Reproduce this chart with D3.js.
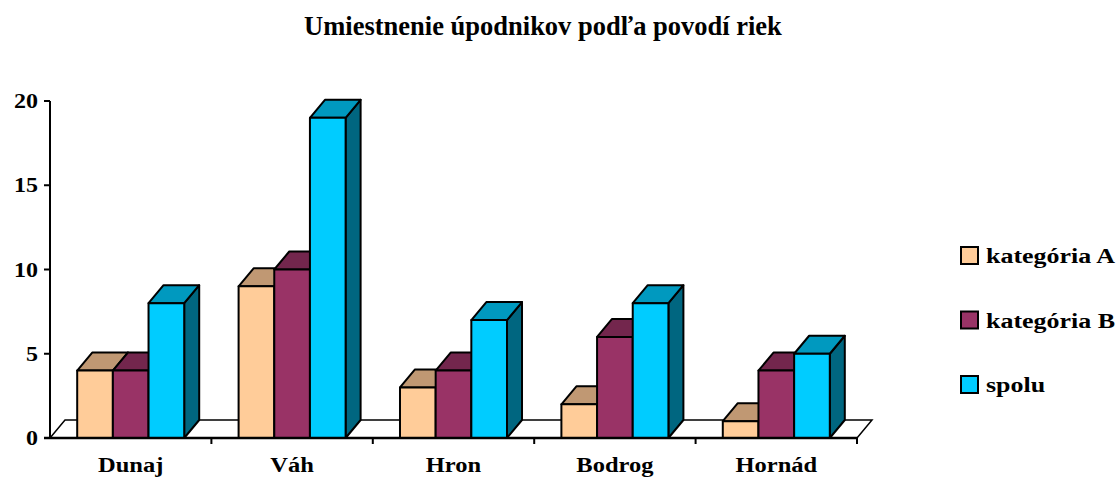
<!DOCTYPE html>
<html><head><meta charset="utf-8">
<script src="https://cdn.jsdelivr.net/npm/d3@7"></script>
<style>body{margin:0;background:#fff}svg{display:block}</style>
</head><body><svg id="c" width="1120" height="477"></svg>
<script>
const title = "Umiestnenie úpodnikov podľa povodí riek";
const categories = ["Dunaj","Váh","Hron","Bodrog","Hornád"];
const seriesNames = ["kategória A","kategória B","spolu"];
const katA = [4,9,3,2,1];
const katB = [4,10,4,6,4];
const spolu = [8,19,7,8,5];
const yTicks = [0,5,10,15,20];

const seriesValues = [katA,katB,spolu];
const colors = [
  {front:"#FFCC99", top:"#C09873", side:"#9C7A5A"},
  {front:"#993366", top:"#73264D", side:"#5C1F3D"},
  {front:"#00CCFF", top:"#0099BF", side:"#006680"}
];
const FONT = "font-family:'Liberation Serif','Times New Roman',serif;font-weight:bold;fill:#000;";
const svg = d3.select("#c");
const x0 = 50, x1 = 857, yBase = 438;
const dx = 15, dy = -18;
const x = d3.scaleBand().domain(categories).range([x0,x1]).paddingInner(0.337).paddingOuter(0.1685);
const xs = d3.scaleBand().domain(seriesNames).range([0,x.bandwidth()]).padding(0);
const y = d3.scaleLinear().domain([0,20]).range([yBase,101]);

// title
svg.append("text").attr("x",543).attr("y",35).attr("text-anchor","middle").attr("style",FONT+"font-size:26.5px").text(title);

// floor
svg.append("path").attr("d",`M${x0},${yBase}L${x0+dx},${yBase+dy}L${x1+dx},${yBase+dy}L${x1},${yBase}Z`)
  .attr("fill","#fff").attr("stroke","#000").attr("stroke-width",1.5);

// y axis
svg.append("line").attr("x1",x0).attr("x2",x0).attr("y1",y(20)).attr("y2",yBase).attr("stroke","#000").attr("stroke-width",2);
yTicks.forEach(t=>{
  svg.append("line").attr("x1",x0-6).attr("x2",x0).attr("y1",y(t)).attr("y2",y(t)).attr("stroke","#000").attr("stroke-width",2);
  svg.append("text").attr("transform",`translate(38,${y(t)+7}) scale(1.2,1)`).attr("text-anchor","end").attr("style",FONT+"font-size:20px").text(t);
});

// bars
categories.forEach((c,ci)=>{
  seriesNames.forEach((s,si)=>{
    const v = seriesValues[si][ci];
    const bx = x(c)+xs(s), w = xs.bandwidth(), yt = y(v);
    const g = svg.append("g").attr("stroke","#000").attr("stroke-width",2).attr("stroke-linejoin","round");
    g.append("path").attr("d",`M${bx+w},${yt}L${bx+w+dx},${yt+dy}L${bx+w+dx},${yBase+dy}L${bx+w},${yBase}Z`).attr("fill",colors[si].side);
    g.append("path").attr("d",`M${bx},${yt}L${bx+dx},${yt+dy}L${bx+w+dx},${yt+dy}L${bx+w},${yt}Z`).attr("fill",colors[si].top);
    g.append("rect").attr("x",bx).attr("y",yt).attr("width",w).attr("height",yBase-yt).attr("fill",colors[si].front);
  });
});

// x axis
svg.append("line").attr("x1",x0-6).attr("x2",x1).attr("y1",yBase).attr("y2",yBase).attr("stroke","#000").attr("stroke-width",2.5);
categories.forEach((c,ci)=>{
  const bx = x(c) - x.step()*x.paddingInner()/2;
  if(ci>0) svg.append("line").attr("x1",bx).attr("x2",bx).attr("y1",yBase).attr("y2",yBase+6).attr("stroke","#000").attr("stroke-width",2);
  svg.append("text").attr("transform",`translate(${x(c)+x.bandwidth()/2},472) scale(1.14,1)`).attr("text-anchor","middle").attr("style",FONT+"font-size:21.5px").text(c);
});
svg.append("line").attr("x1",x1).attr("x2",x1).attr("y1",yBase).attr("y2",yBase+6).attr("stroke","#000").attr("stroke-width",2);

// legend
seriesNames.forEach((s,si)=>{
  const cy = 255.5 + si*64.5;
  svg.append("rect").attr("x",961).attr("y",cy-8.5).attr("width",17).attr("height",17).attr("fill",colors[si].front).attr("stroke","#000").attr("stroke-width",2);
  svg.append("text").attr("transform",`translate(986,${cy+7.5}) scale(1.18,1)`).attr("style",FONT+"font-size:22px").text(s);
});
</script></body></html>
